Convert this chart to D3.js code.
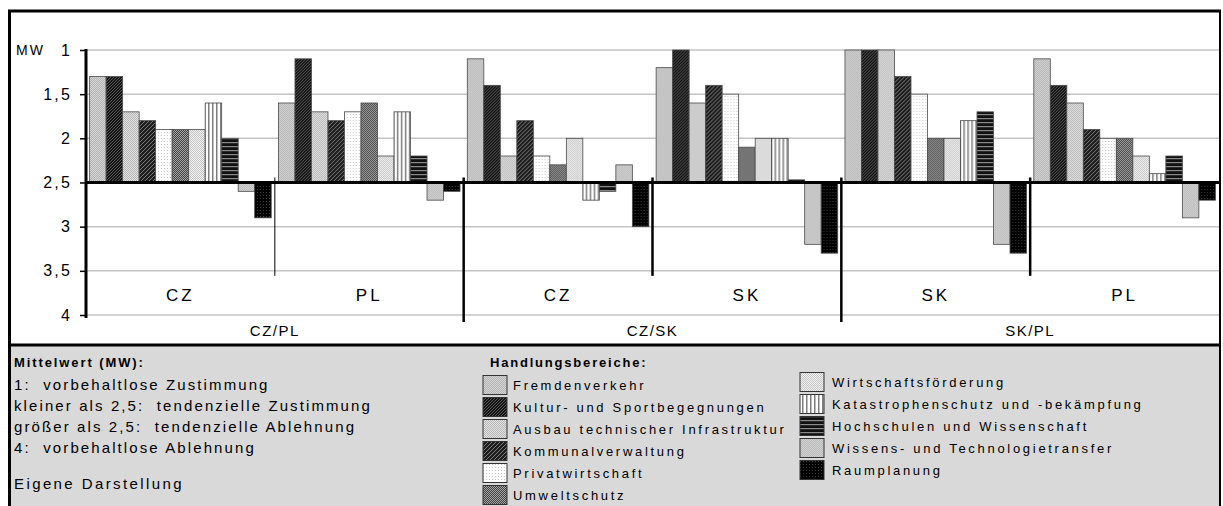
<!DOCTYPE html>
<html>
<head>
<meta charset="utf-8">
<script src="https://cdn.jsdelivr.net/npm/d3@7"></script>
<style>
  body { margin: 0; background: #fff; }
  text { font-family: "Liberation Sans", Arial, sans-serif; fill: #000; }
</style>
</head>
<body>
<svg id="chart" width="1223" height="506"></svg>
<script>
// Daten
const pairs = ["CZ/PL", "CZ/SK", "SK/PL"];
const countries = [["CZ", "PL"], ["CZ", "SK"], ["SK", "PL"]];
const bereiche = [
  "Fremdenverkehr",
  "Kultur- und Sportbegegnungen",
  "Ausbau technischer Infrastruktur",
  "Kommunalverwaltung",
  "Privatwirtschaft",
  "Umweltschutz",
  "Wirtschaftsförderung",
  "Katastrophenschutz und -bekämpfung",
  "Hochschulen und Wissenschaft",
  "Wissens- und Technologietransfer",
  "Raumplanung"
];
const czpl_CZ = [1.3, 1.3, 1.7, 1.8, 1.9, 1.9, 1.9, 1.6, 2.0, 2.6, 2.9];
const czpl_PL = [1.6, 1.1, 1.7, 1.8, 1.7, 1.6, 2.2, 1.7, 2.2, 2.7, 2.6];
const czsk_CZ = [1.1, 1.4, 2.2, 1.8, 2.2, 2.3, 2.0, 2.7, 2.6, 2.3, 3.0];
const czsk_SK = [1.2, 1.0, 1.6, 1.4, 1.5, 2.1, 2.0, 2.0, 2.47, 3.2, 3.3];
const skpl_SK = [1.0, 1.0, 1.0, 1.3, 1.5, 2.0, 2.0, 1.8, 1.7, 3.2, 3.3];
const skpl_PL = [1.1, 1.4, 1.6, 1.9, 2.0, 2.0, 2.2, 2.4, 2.2, 2.9, 2.7];
const yTicks = [1, 1.5, 2, 2.5, 3, 3.5, 4];
const mwTitle = "Mittelwert (MW):";
const mwLines = [
  "1:  vorbehaltlose Zustimmung",
  "kleiner als 2,5:  tendenzielle Zustimmung",
  "größer als 2,5:  tendenzielle Ablehnung",
  "4:  vorbehaltlose Ablehnung"
];
const quelle = "Eigene Darstellung";
const legendTitle = "Handlungsbereiche:";

const groupValues = [czpl_CZ, czpl_PL, czsk_CZ, czsk_SK, skpl_SK, skpl_PL];
const subgroups = [];
pairs.forEach((p, i) => countries[i].forEach((c, j) => {
  subgroups.push({ key: p + "-" + c, pair: p, country: c, values: groupValues[i * 2 + j] });
}));

const svg = d3.select("#chart");
const plotL = 86, plotR = 1219, plotT = 50, plotB = 315;

// Muster (Excel-artige Schraffuren)
const defs = svg.append("defs");
function pat(id, size, bg, draw) {
  const p = defs.append("pattern").attr("id", id)
    .attr("patternUnits", "userSpaceOnUse").attr("width", size).attr("height", size);
  p.append("rect").attr("width", size).attr("height", size).attr("fill", bg);
  draw(p);
}
const dots = (col, w) => p => {
  p.append("rect").attr("x", 0).attr("y", 0).attr("width", w).attr("height", w).attr("fill", col);
  p.append("rect").attr("x", w).attr("y", w).attr("width", w).attr("height", w).attr("fill", col);
};
pat("p0", 2, "#b4b4b4", dots("#d4d4d4", 1));
pat("p1", 3, "#151515", p => p.append("path").attr("d", "M0,3 L3,0").attr("stroke", "#666").attr("stroke-width", 0.8));
pat("p2", 2, "#e2e2e2", dots("#b6b6b6", 1));
pat("p3", 4, "#1e1e1e", p => p.append("path").attr("d", "M0,4 L4,0 M-1,1 L1,-1 M3,5 L5,3").attr("stroke", "#7a7a7a").attr("stroke-width", 1));
pat("p4", 3, "#ffffff", p => p.append("rect").attr("width", 1).attr("height", 1).attr("fill", "#c8c8c8"));
pat("p5", 2, "#404040", dots("#a8a8a8", 1));
pat("p6", 2, "#f2f2f2", dots("#c4c4c4", 1));
pat("p7", 4, "#ffffff", p => p.append("rect").attr("x", 2).attr("width", 1.5).attr("height", 4).attr("fill", "#7d7d7d"));
pat("p8", 4, "#111111", p => p.append("rect").attr("y", 2).attr("width", 4).attr("height", 1.2).attr("fill", "#8a8a8a"));
pat("p9", 2, "#bcbcbc", dots("#d0d0d0", 1));
pat("p10", 3, "#000000", p => p.append("rect").attr("width", 1).attr("height", 1).attr("fill", "#3a3a3a"));
const fills = bereiche.map((b, i) => `url(#p${i})`);

// Skalen
const y = d3.scaleLinear().domain([1, 4]).range([plotT, plotB]);
const x0 = d3.scaleBand().domain(subgroups.map(d => d.key)).range([plotL, plotR]).paddingInner(0).paddingOuter(0);
const x1 = d3.scaleBand().domain(d3.range(bereiche.length)).range([0, x0.bandwidth()]).paddingInner(0).paddingOuter(0.22);
const base = 2.5;

// Legendenfläche
svg.append("rect").attr("x", 9).attr("y", 345).attr("width", 1210).attr("height", 161).attr("fill", "#d9d9d9");

// Gitternetz
svg.append("g").selectAll("line").data(yTicks.filter(t => t !== base)).join("line")
  .attr("x1", plotL).attr("x2", plotR)
  .attr("y1", d => y(d)).attr("y2", d => y(d))
  .attr("stroke", "#c4c4c4").attr("stroke-width", 1.5);

// Balken
const g = svg.append("g").selectAll("g").data(subgroups).join("g")
  .attr("transform", d => `translate(${x0(d.key)},0)`);
g.selectAll("rect").data(d => d.values).join("rect")
  .attr("x", (v, i) => x1(i))
  .attr("width", x1.bandwidth())
  .attr("y", v => Math.min(y(v), y(base)))
  .attr("height", v => Math.abs(y(v) - y(base)))
  .attr("fill", (v, i) => fills[i])
  .attr("stroke", "#4a4a4a").attr("stroke-width", 0.8);

// Basislinie 2,5
svg.append("line").attr("x1", plotL).attr("x2", plotR)
  .attr("y1", y(base)).attr("y2", y(base))
  .attr("stroke", "#000").attr("stroke-width", 3);

// Trennlinien
subgroups.forEach((d, i) => {
  if (i === 0) return;
  const xx = x0(d.key);
  const betweenPairs = i % 2 === 0;
  svg.append("line")
    .attr("x1", xx).attr("x2", xx)
    .attr("y1", y(base) - 5)
    .attr("y2", betweenPairs ? 322 : y(3.5) + 5)
    .attr("stroke", "#000")
    .attr("stroke-width", i === 1 ? 1 : 2.5);
});

// Y-Achse
const yAxis = svg.append("g").attr("transform", `translate(${plotL},0)`)
  .call(d3.axisLeft(y).tickValues(yTicks).tickSize(6).tickPadding(8)
    .tickFormat(d => String(d).replace(".", ",")));
yAxis.select(".domain").attr("stroke", "#000").attr("stroke-width", 3).attr("d", `M0,${plotT - 1}V${plotB + 3}`);
yAxis.selectAll(".tick line").attr("stroke", "#000").attr("stroke-width", 1.5);
yAxis.selectAll(".tick text").attr("font-size", 16).attr("letter-spacing", 2.2)
  .attr("font-family", "Liberation Sans, Arial, sans-serif").attr("fill", "#000");
svg.append("text").attr("x", 16).attr("y", y(1) + 5).attr("font-size", 14).attr("letter-spacing", 2).text("MW");

// Kategorien
svg.append("g").selectAll("text").data(subgroups).join("text")
  .attr("x", d => x0(d.key) + x0.bandwidth() / 2)
  .attr("y", 301).attr("text-anchor", "middle")
  .attr("font-size", 17).attr("letter-spacing", 3)
  .text(d => d.country);
svg.append("g").selectAll("text").data(pairs).join("text")
  .attr("x", (p, i) => x0(subgroups[i * 2].key) + x0.bandwidth())
  .attr("y", 336).attr("text-anchor", "middle")
  .attr("font-size", 15).attr("letter-spacing", 1.5)
  .text(d => d);

// Rahmen
svg.append("line").attr("x1", 8).attr("x2", 1221).attr("y1", 11).attr("y2", 11).attr("stroke", "#000").attr("stroke-width", 3);
svg.append("line").attr("x1", 9.5).attr("x2", 9.5).attr("y1", 10).attr("y2", 506).attr("stroke", "#000").attr("stroke-width", 3);
svg.append("line").attr("x1", 1220).attr("x2", 1220).attr("y1", 10).attr("y2", 506).attr("stroke", "#000").attr("stroke-width", 2);
svg.append("line").attr("x1", 8).attr("x2", 1221).attr("y1", 345).attr("y2", 345).attr("stroke", "#000").attr("stroke-width", 3);

// Legende links
svg.append("text").attr("x", 14).attr("y", 367).attr("font-size", 13).attr("font-weight", "bold").attr("letter-spacing", 1.9).text(mwTitle);
svg.append("g").selectAll("text").data(mwLines).join("text")
  .attr("x", 14).attr("y", (d, i) => 390 + i * 21)
  .attr("font-size", 15).attr("letter-spacing", 2.1)
  .attr("xml:space", "preserve").style("white-space", "pre")
  .text(d => d);
svg.append("text").attr("x", 14).attr("y", 489).attr("font-size", 15).attr("letter-spacing", 2.4).text(quelle);

// Legende Handlungsbereiche
svg.append("text").attr("x", 490).attr("y", 367).attr("font-size", 13).attr("font-weight", "bold").attr("letter-spacing", 1.8).text(legendTitle);
const items = bereiche.map((b, i) => ({ name: b, i, col: i < 6 ? 0 : 1, row: i < 6 ? i : i - 6 }));
const li = svg.append("g").selectAll("g").data(items).join("g")
  .attr("transform", d => `translate(${d.col === 0 ? 483 : 800},${(d.col === 0 ? 385 : 382) + d.row * 22})`);
li.append("rect").attr("x", 0).attr("y", -9.5).attr("width", 24).attr("height", 19)
  .attr("fill", d => fills[d.i]).attr("stroke", "#333").attr("stroke-width", 1);
li.append("text").attr("x", d => d.col === 0 ? 30 : 32).attr("y", 5)
  .attr("font-size", 13).attr("letter-spacing", 2.7)
  .text(d => d.name);
</script>
</body>
</html>
